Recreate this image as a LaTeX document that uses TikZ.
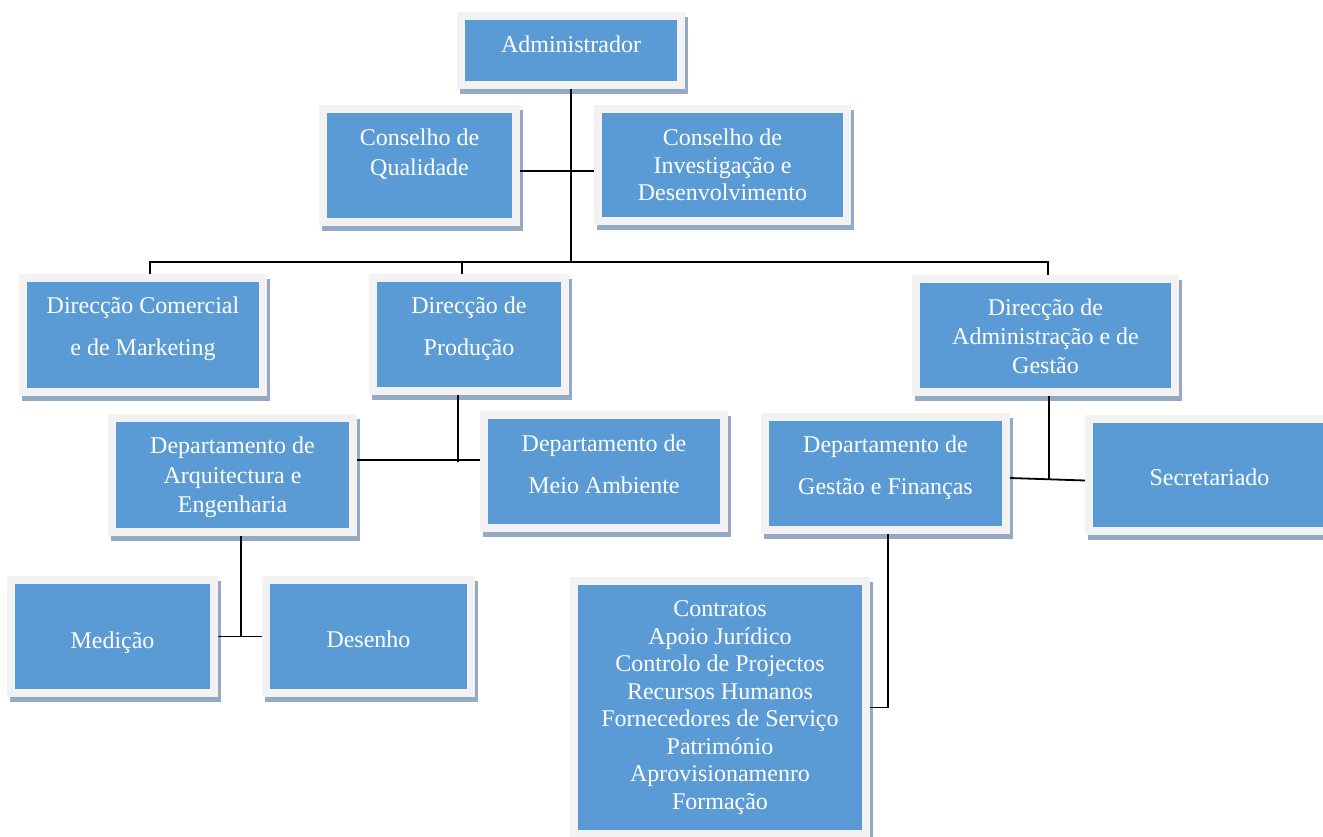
\documentclass[tikz,border=0pt]{standalone}
\usepackage{fontspec}
\setmainfont{Liberation Serif}
\usepackage{tikz}
\usetikzlibrary{shadows}
\definecolor{azulcaixa}{HTML}{5B9BD5}
\definecolor{moldura}{HTML}{F2F2F2}
\definecolor{sombra}{HTML}{94AAC4}
\newcommand{\desce}[1]{\rule[-#1]{0pt}{#1}}
\newcommand{\sobe}[1]{\rule{0pt}{#1}}
\tikzset{cargo/.style={rectangle, fill=azulcaixa, draw=moldura, line width=8pt,
    text=white, align=center, inner sep=0pt,
    font=\fontsize{24}{27.5}\selectfont,
    general shadow={fill=sombra, draw=sombra, line width=8pt,
      shadow xshift=3pt, shadow yshift=-5pt}},
  liga/.style={draw=black, line width=1.8pt}}

\begin{document}
\begin{tikzpicture}[x=1pt, y=-1pt]

            \useasboundingbox (0,0) rectangle (1323,837);

            \node[cargo, minimum width=220pt, minimum height=69pt] (admin) at (571,50.5) {Administrador\desce{13.4pt}};
            \node[cargo, minimum width=193pt, minimum height=113pt] (qualidade) at (419.5,165.5) {Conselho de\\[2.5pt] Qualidade\desce{27.4pt}};
            \node[cargo, minimum width=249pt, minimum height=112pt] (investigacao) at (722.5,165) {Conselho de\\ Investigação e\\ Desenvolvimento};
            \node[cargo, minimum width=240pt, minimum height=114pt] (comercial) at (143,335) {Direcção Comercial\\[14.5pt] e de Marketing\desce{18.4pt}};
            \node[cargo, minimum width=192pt, minimum height=113pt] (producao) at (469,334.5) {Direcção de\\[14.5pt] Produção\desce{17.4pt}};
            \node[cargo, minimum width=259pt, minimum height=113pt] (gestao) at (1045.5,335.5) {\sobe{19pt}Direcção de\\[1.5pt] Administração e de\\[1.5pt] Gestão};
            \node[cargo, minimum width=241pt, minimum height=114pt] (arquitectura) at (232.5,475) {\sobe{21.2pt}Departamento de\\[2pt] Arquitectura e\\[2pt] Engenharia};
            \node[cargo, minimum width=240pt, minimum height=113pt] (ambiente) at (604,471.5) {Departamento de\\[14.5pt] Meio Ambiente\desce{15.4pt}};
            \node[cargo, minimum width=203pt, minimum height=113pt] (medicao) at (112.5,636.5) {\sobe{28.2pt}Medição};
            \node[cargo, minimum width=205pt, minimum height=113pt] (desenho) at (368.5,636.5) {\sobe{23pt}Desenho};
            \node[cargo, minimum width=241pt, minimum height=113pt] (financas) at (885.5,473.5) {Departamento de\\[15pt] Gestão e Finanças\desce{16.4pt}};
            \node[cargo, minimum width=241pt, minimum height=112pt] (secretariado) at (1209.5,475) {\sobe{22pt}Secretariado};
            \node[cargo, minimum width=292pt, minimum height=253pt] (servicos) at (720,707.5) {Contratos\\ Apoio Jurídico\\ Controlo de Projectos\\ Recursos Humanos\\ Fornecedores de Serviço\\ Património\\ Aprovisionamenro\\ Formação};

            \coordinate (tronco) at (571,262);

            \draw[liga] (admin.south) -- (tronco);
            \draw[liga] ([yshift=-5.5pt]qualidade.east) -- ([yshift=-5.5pt]qualidade.east -| investigacao.west);
            \draw[liga] ([xshift=7pt]comercial.north) |- ([xshift=2.5pt]gestao.north |- tronco) -- ([xshift=2.5pt]gestao.north);
            \draw[liga] ([xshift=-7pt]producao.north) -- ([xshift=-7pt]producao.north |- tronco);
            \draw[liga] ([xshift=-11pt]producao.south) -- ([xshift=-11pt, yshift=13pt]producao.south |- arquitectura.east);
            \draw[liga] ([yshift=15pt]arquitectura.east) -- ([yshift=15pt]arquitectura.east -| ambiente.west);
            \draw[liga] ([xshift=8.5pt]arquitectura.south) -- ([xshift=8.5pt]arquitectura.south |- medicao.east);
            \draw[liga] (medicao.east) -- (desenho.west);
            \draw[liga] ([xshift=3.5pt]gestao.south) -- ([xshift=3.5pt, yshift=-6.5pt]gestao.south |- financas.east);
            \draw[liga] ([yshift=-4.5pt]financas.east) -- ([yshift=-5.5pt]secretariado.west);
            \draw[liga] ([xshift=2.5pt]financas.south) |- (servicos.east);

        \end{tikzpicture}
\end{document}
